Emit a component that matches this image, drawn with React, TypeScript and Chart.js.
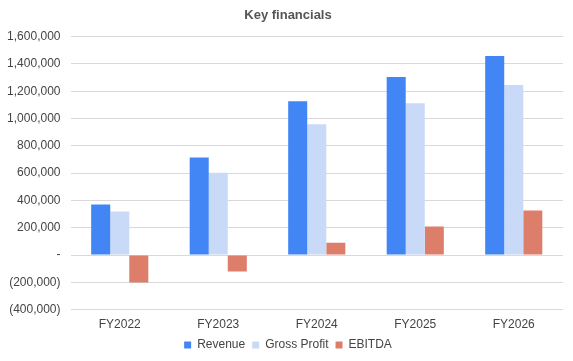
import React, { useEffect, useRef } from "react";
import { Chart, registerables } from "chart.js";

Chart.register(...registerables);

const categories = ["FY2022", "FY2023", "FY2024", "FY2025", "FY2026"];
const revenue = [370000, 715000, 1127000, 1304000, 1458000];
const grossProfit = [318000, 603000, 958000, 1112000, 1245000];
const ebitda = [-201000, -120000, 90000, 208000, 326000];
const seriesNames = ["Revenue", "Gross Profit", "EBITDA"];
const seriesColors = ["#4285F4", "#C9DAF8", "#DD7E6B"];

const fmt = (v: number) => {
  if (v === 0) return "-";
  const s = Math.abs(v).toLocaleString("en-US");
  return v < 0 ? `(${s})` : s;
};

export default function App() {
  const ref = useRef<HTMLCanvasElement>(null);
  useEffect(() => {
    document.body.style.margin = "0";
    const font = "Arial, 'Liberation Sans', sans-serif";
    const chart = new Chart(ref.current!, {
      type: "bar",
      data: {
        labels: categories,
        datasets: [revenue, grossProfit, ebitda].map((d, i) => ({
          label: seriesNames[i],
          data: d,
          backgroundColor: seriesColors[i],
          borderWidth: 0,
          categoryPercentage: 0.58,
          barPercentage: 1,
          yAxisID: "y",
        })),
      },
      options: {
        responsive: false,
        animation: false,
        layout: { padding: { left: 4, right: 1, top: 0, bottom: 0 } },
        plugins: {
          title: {
            display: true,
            text: "Key financials",
            color: "#555555",
            font: { family: font, size: 13, weight: "bold" },
            padding: { top: 8, bottom: 13 },
          },
          legend: {
            position: "bottom",
            labels: {
              color: "#444444",
              font: { family: font, size: 12 },
              boxWidth: 7,
              boxHeight: 7,
              padding: 7,
            },
          },
          tooltip: { enabled: false },
        },
        scales: {
          x: {
            grid: { display: false, drawTicks: false },
            border: { display: false },
            ticks: { color: "#444444", font: { family: font, size: 12 }, padding: 8 },
            afterFit: (scale: any) => {
              scale.height -= 8;
            },
          },
          y: {
            position: "left",
            min: -400000,
            max: 1600000,
            grid: { color: "#D9D9D9", drawTicks: false, lineWidth: 1 },
            border: { display: false },
            ticks: {
              stepSize: 200000,
              color: "#444444",
              font: { family: font, size: 12 },
              padding: 10,
              callback: (v: any) => fmt(Number(v)),
            },
            afterFit: (scale: any) => {
              scale.width = 66.5;
            },
          },
          yPad: {
            type: "linear",
            position: "right",
            display: true,
            grid: { display: false, drawTicks: false },
            border: { display: false },
            ticks: { display: false },
            afterFit: (scale: any) => {
              scale.width = 9;
            },
          },
        },
      },
    });
    return () => chart.destroy();
  }, []);
  return (
    <div style={{ width: 573, height: 361 }}>
      <canvas ref={ref} width={573} height={361} />
    </div>
  );
}
